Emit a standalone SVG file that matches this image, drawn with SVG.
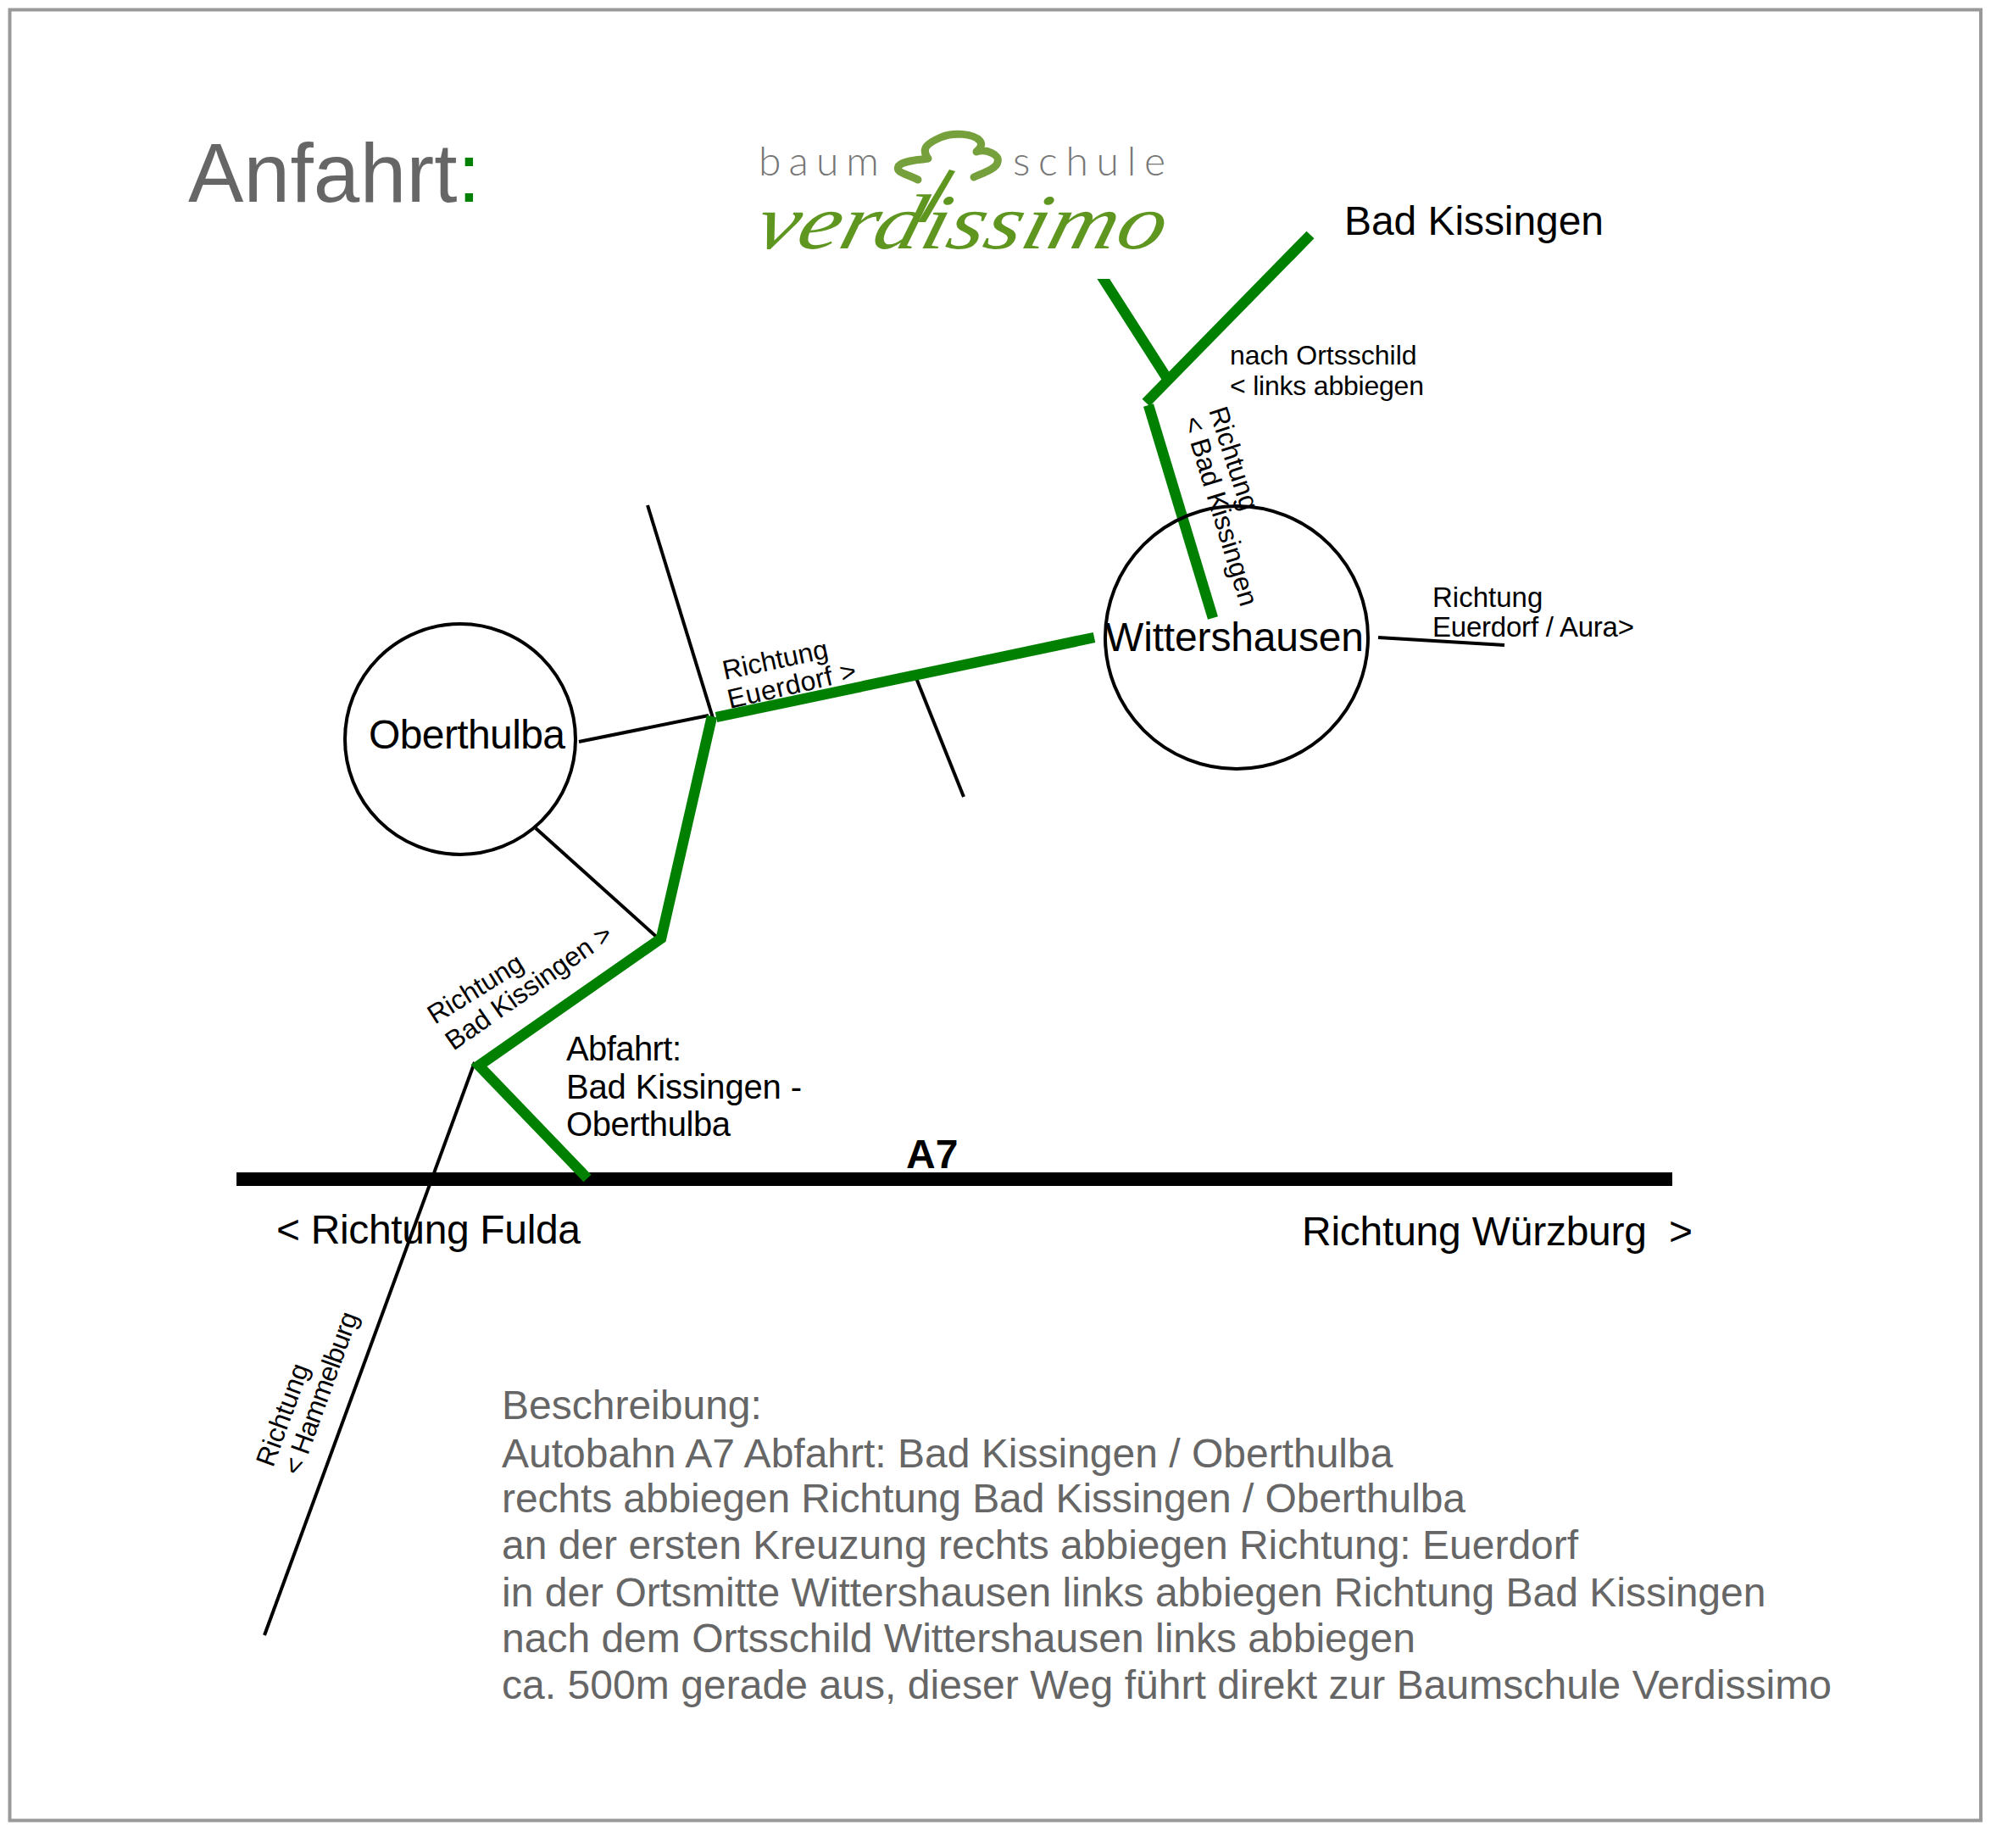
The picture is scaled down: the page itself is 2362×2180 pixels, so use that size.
<svg xmlns="http://www.w3.org/2000/svg" width="2362" height="2180" viewBox="0 0 2362 2180">
<style>
text{font-family:"Liberation Sans",Arial,sans-serif;fill:#000}
.l{font-size:48px}.s{font-size:32px}.m{font-size:40px}
.d{font-size:48px;fill:#666}
.g{fill:none;stroke:#008000;stroke-width:12.500}
.b{fill:none;stroke:#000;stroke-width:4}
.c{fill:#fff;stroke:#000;stroke-width:4}
.lg{font-family:Lato,"Liberation Sans",sans-serif;font-weight:300;font-size:48px;fill:#777}
</style>
<rect width="2362" height="2180" fill="#fff"/>
<rect x="11.500" y="11.500" width="2325.500" height="2136" fill="none" stroke="#999" stroke-width="4"/>
<g id="title"><text x="222" y="238" textLength="345" style="font-size:98px;fill:#666">Anfahrt<tspan fill="#008000">:</tspan></text></g>
<g id="connectors">
<line class="b" x1="683" y1="875" x2="836" y2="844"/>
<line class="b" x1="764" y1="596" x2="842" y2="850"/>
<line class="b" x1="632" y1="977" x2="780" y2="1110"/>
<line class="b" x1="1079" y1="795" x2="1137" y2="940"/>
<line class="b" x1="1626" y1="752" x2="1775" y2="761"/>
<line class="b" x1="560" y1="1253" x2="312" y2="1929"/>
<line x1="279" y1="1391" x2="1973" y2="1391" stroke="#000" stroke-width="16"/>
<path class="g" d="M693 1390L565 1257L780 1107L840 845"/>
<line class="g" x1="845" y1="846" x2="1291" y2="752"/>
<line class="g" x1="1546" y1="277" x2="1352" y2="475"/>
<line class="g" x1="1296" y1="320" x2="1378" y2="448"/>
<line class="g" x1="1355" y1="478" x2="1431" y2="729"/>
</g>
<g id="logo">
<rect x="880" y="130" width="520" height="199" fill="#fff"/>
<text class="lg" x="895" y="207" textLength="142">baum</text>
<text class="lg" x="1195" y="207" textLength="180">schule</text>
<path d="M1083 212C1070 205 1056 204 1060 196C1066 189 1084 189 1095 187C1086 175 1094 169 1110 162C1124 156 1148 157 1156 166C1160 171 1156 175 1152 179C1164 175 1180 183 1177 191C1176 199 1160 204 1149 209" fill="none" stroke="#76a03c" stroke-width="9" stroke-linecap="round" stroke-linejoin="round"/>
<path d="M1120 200L1127 202L1092 262L1083 262Z" fill="#5e9620"/>
<text transform="translate(887 293) skewX(-15)" textLength="482" lengthAdjust="spacingAndGlyphs" style="font-family:'Liberation Serif',serif;font-style:italic;font-size:92px;fill:#5e9620">verdissimo</text>
</g>
<g id="place-oberthulba"><circle class="c" cx="543" cy="872" r="136"/><text class="l" x="435" y="883" textLength="232">Oberthulba</text></g>
<g id="place-wittershausen"><circle class="c" cx="1459" cy="752" r="155" style="fill:none"/><text class="l" x="1304" y="768" textLength="305">Wittershausen</text></g>
<g id="labels">
<text class="l" x="1586" y="277" textLength="306">Bad Kissingen</text>
<text class="s" x="1451" y="430">nach Ortsschild</text>
<text class="s" x="1451" y="466" textLength="229">&lt; links abbiegen</text>
<text class="s" transform="translate(1426 484) rotate(72)">Richtung</text>
<text class="s" transform="translate(1396 495) rotate(73)">&lt; Bad Kissingen</text>
<text class="s" x="1690" y="716" style="font-size:33px">Richtung</text>
<text class="s" x="1690" y="751" textLength="238" style="font-size:33px">Euerdorf / Aura&gt;</text>
<text class="s" transform="translate(855 802) rotate(-12)">Richtung</text>
<text class="s" transform="translate(861 836) rotate(-13)" textLength="155">Euerdorf &gt;</text>
<text class="s" transform="translate(513 1209) rotate(-32)">Richtung</text>
<text class="s" transform="translate(535 1240) rotate(-35)">Bad Kissingen &gt;</text>
<text class="m" x="668" y="1251" textLength="136">Abfahrt:</text>
<text class="m" x="668" y="1296" textLength="278">Bad Kissingen -</text>
<text class="m" x="668" y="1340" textLength="194">Oberthulba</text>
<text x="1069" y="1378" style="font-size:48px;font-weight:700">A7</text>
<text class="l" x="326" y="1467" textLength="359">&lt; Richtung Fulda</text>
<text class="l" x="1536" y="1469" textLength="461" xml:space="preserve">Richtung Würzburg  &gt;</text>
<text class="s" transform="translate(322 1732) rotate(-70)">Richtung</text>
<text class="s" transform="translate(354 1742) rotate(-70)" textLength="202">&lt; Hammelburg</text>
</g>
<g id="description">
<text class="d" x="592" y="1674">Beschreibung:</text>
<text class="d" x="592" y="1731">Autobahn A7 Abfahrt: Bad Kissingen / Oberthulba</text>
<text class="d" x="592" y="1784" textLength="1137">rechts abbiegen Richtung Bad Kissingen / Oberthulba</text>
<text class="d" x="592" y="1839">an der ersten Kreuzung rechts abbiegen Richtung: Euerdorf</text>
<text class="d" x="592" y="1895">in der Ortsmitte Wittershausen links abbiegen Richtung Bad Kissingen</text>
<text class="d" x="592" y="1949">nach dem Ortsschild Wittershausen links abbiegen</text>
<text class="d" x="592" y="2004" textLength="1569">ca. 500m gerade aus, dieser Weg führt direkt zur Baumschule Verdissimo</text>
</g>
</svg>
